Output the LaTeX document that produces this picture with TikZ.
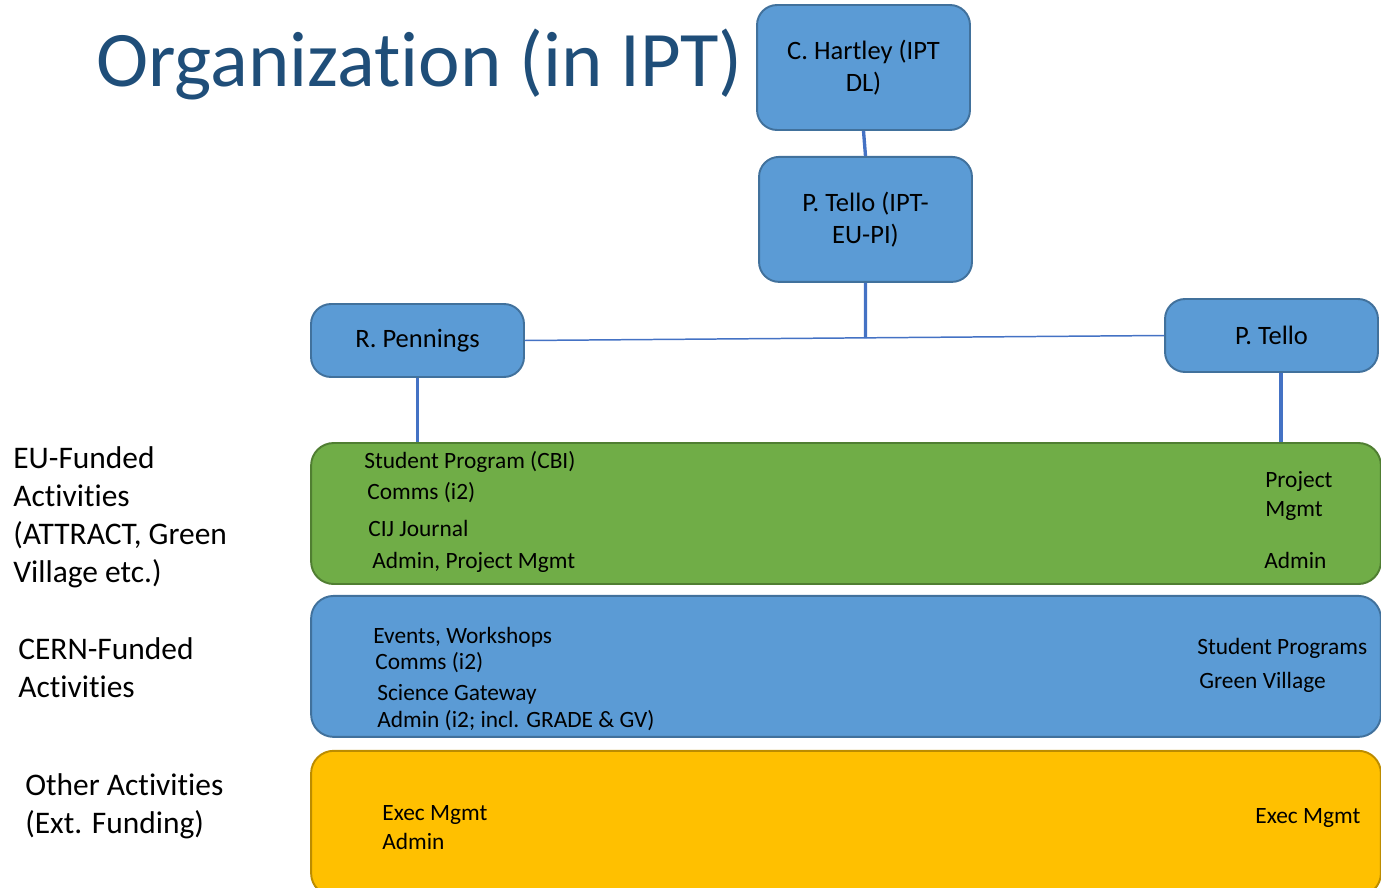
\documentclass[tikz,border=0pt]{standalone}
\usepackage{fontspec}
\setmainfont{Carlito}[Ligatures=NoCommon]
\usepackage{xcolor}
\usetikzlibrary{positioning}

\definecolor{personfill}{RGB}{91,155,213}
\definecolor{persondraw}{RGB}{65,113,156}
\definecolor{eufill}{RGB}{112,173,71}
\definecolor{eudraw}{RGB}{80,126,50}
\definecolor{otherfill}{RGB}{255,192,0}
\definecolor{otherdraw}{RGB}{188,140,0}
\definecolor{linkblue}{RGB}{68,114,196}
\definecolor{titleblue}{RGB}{31,78,121}

\begin{document}
\begin{tikzpicture}[
    x=0.02cm, y=-0.02cm,
    person/.style={rectangle, draw=persondraw, fill=personfill, line width=1.1pt, rounded corners=0.4cm, minimum width=4.26cm, minimum height=1.46cm, align=center, font=\fontsize{15.1}{18.1}\selectfont},
    band/.style={rectangle, line width=1.1pt, rounded corners=0.45cm, minimum width=21.4cm, minimum height=2.82cm},
    item/.style={anchor=base west, inner sep=0pt, font=\fontsize{13.3}{16}\selectfont},
    side/.style={anchor=base west, inner sep=0pt, align=left, font=\fontsize{17.9}{21.5}\selectfont},
    link/.style={draw=linkblue, line width=1.9pt},
    thinlink/.style={draw=linkblue, line width=0.85pt}
]
    \useasboundingbox (0,0) rectangle (1381,888);

    \node [anchor=base west, inner sep=0pt, text=titleblue, font=\fontsize{44.8}{54}\selectfont] (title) at (96,87) {Organization (in IPT)};

    % People
    \node [person, minimum height=2.5cm] (hartley) at (863.5,67.5) {C. Hartley (IPT\\DL)};
    \node [person, minimum height=2.5cm, below=0.5cm of hartley, xshift=0.04cm] (tellopi) {P. Tello (IPT-\\EU-PI)};
    \node [person] (pennings) at (417.5,340.5) {R. Pennings};
    \node [person] (tello) at (1271.5,335.5) {P. Tello};
    \coordinate (junction) at (865.5,338);

    % Activity bands
    \node [band, draw=eudraw, fill=eufill] (eu) at (846,513.5) {};
    \node [band, draw=persondraw, fill=personfill, below=0.2cm of eu] (cern) {};
    \node [band, draw=otherdraw, fill=otherfill, minimum height=2.9cm, below=0.24cm of cern] (other) {};

    % Side labels
    \node [side] (eulabel) at (13,582) {EU-Funded\\Activities\\(ATTRACT, Green\\Village etc.)};
    \node [side] (cernlabel) at (18,697) {CERN-Funded\\Activities};
    \node [side] (otherlabel) at (25,833) {Other Activities\\(Ext. Funding)};

    % EU-funded items
    \node [item] (eustudent) at (364,468) {Student Program (CBI)};
    \node [item] (eucomms) at (367,499) {Comms (i2)};
    \node [item] (eujournal) at (368,536) {CIJ Journal};
    \node [item] (euadmin) at (372,568) {Admin, Project Mgmt};
    \node [item] (euproject) at (1265,487) {Project};
    \node [item] (eumgmt) at (1265,516) {Mgmt};
    \node [item] (euadmintello) at (1264,568) {Admin};

    % CERN-funded items
    \node [item] (cernevents) at (373,643) {Events, Workshops};
    \node [item] (cerncomms) at (375,669) {Comms (i2)};
    \node [item] (cerngateway) at (377,700) {Science Gateway};
    \node [item] (cernadmin) at (377,727) {Admin (i2; incl. GRADE \& GV)};
    \node [item] (cernstudent) at (1197,654) {Student Programs};
    \node [item] (cernvillage) at (1199,688) {Green Village};

    % Other items
    \node [item] (otherexec) at (382,820) {Exec Mgmt};
    \node [item] (otheradmin) at (382,849) {Admin};
    \node [item] (otherexectello) at (1255,823) {Exec Mgmt};

    % Lines
    \draw [link] (hartley.south) -- (tellopi.north);
    \draw [link] (tellopi.south) -- (junction);
    \draw [thinlink] (pennings.east) -- (tello.west);
    \draw [link] (pennings.south) -- (pennings.south |- eu.north);
    \draw [link] ([xshift=0.19cm]tello.south) -- ([xshift=0.19cm]tello.south |- eu.north);

\end{tikzpicture}
\end{document}
